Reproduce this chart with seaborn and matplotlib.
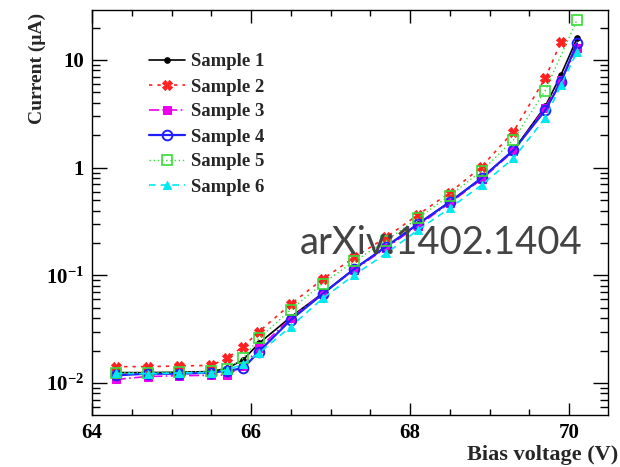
import numpy as np
import pandas as pd
import matplotlib
matplotlib.use("Agg")
import matplotlib.pyplot as plt
import matplotlib.ticker as mticker
import seaborn as sns

# ---- data ----
v_full = [64.3, 64.7, 65.1, 65.5, 65.7, 65.9, 66.1, 66.5, 66.9, 67.3, 67.7,
          68.1, 68.5, 68.9, 69.3, 69.7, 69.9, 70.1]
v_s2 = [64.3, 64.7, 65.1, 65.5, 65.7, 65.9, 66.1, 66.5, 66.9, 67.3, 67.7,
        68.1, 68.5, 68.9, 69.3, 69.7, 69.9]
v_s5 = [64.3, 64.7, 65.1, 65.5, 65.7, 65.9, 66.1, 66.5, 66.9, 67.3, 67.7,
        68.1, 68.5, 68.9, 69.3, 69.7, 70.1]

sample1 = [0.0125, 0.0125, 0.0126, 0.0128, 0.0137, 0.0164, 0.0234, 0.041, 0.068,
           0.115, 0.185, 0.30, 0.48, 0.80, 1.45, 3.7, 7.3, 15.9]
sample2 = [0.0142, 0.0142, 0.0144, 0.0146, 0.0170, 0.0218, 0.030, 0.054, 0.092,
           0.147, 0.226, 0.365, 0.586, 1.02, 2.16, 6.76, 14.8]
sample3 = [0.0108, 0.0115, 0.0117, 0.0118, 0.0119, 0.0145, 0.021, 0.040, 0.068,
           0.113, 0.18, 0.29, 0.47, 0.78, 1.42, 3.6, 6.5, 12.8]
sample4 = [0.0118, 0.0122, 0.0122, 0.0125, 0.0130, 0.0137, 0.0196, 0.0386, 0.067,
           0.115, 0.185, 0.30, 0.48, 0.80, 1.45, 3.4, 6.3, 14.3]
sample5 = [0.0125, 0.0125, 0.0126, 0.0128, 0.0135, 0.017, 0.026, 0.048, 0.084,
           0.135, 0.21, 0.34, 0.55, 0.93, 1.81, 5.2, 23.5]
sample6 = [0.0123, 0.0122, 0.0124, 0.0125, 0.0132, 0.015, 0.019, 0.0334, 0.061,
           0.101, 0.160, 0.264, 0.42, 0.69, 1.22, 2.88, 5.86, 11.9]

labels = ["Sample 1", "Sample 2", "Sample 3", "Sample 4", "Sample 5", "Sample 6"]
xticks = [64, 66, 68, 70]
xtick_labels = ["64", "66", "68", "70"]

# ---- style ----
sns.set_style("ticks")
plt.rcParams["font.family"] = ["Liberation Serif", "DejaVu Serif"]
plt.rcParams["font.weight"] = "bold"
plt.rcParams["mathtext.fontset"] = "custom"
plt.rcParams["mathtext.rm"] = "Liberation Serif:bold"
plt.rcParams["mathtext.bf"] = "Liberation Serif:bold"
plt.rcParams["mathtext.it"] = "Liberation Serif:bold"

fig = plt.figure(figsize=(6.2, 4.67), dpi=100)
ax = fig.add_axes([92 / 620, 52 / 467, 516 / 620, 405 / 467])

series = [
    (v_full, sample1, dict(color="#000000", marker="o", markersize=4, linestyle="-", linewidth=1.2)),
    (v_s2, sample2, dict(color="#ff2020", marker="X", markersize=7, linestyle=(0, (2, 3)), linewidth=1.2)),
    (v_full, sample3, dict(color="#ee00ee", marker="s", markersize=5.5, linestyle=(0, (6, 2, 1, 2)), linewidth=1.2)),
    (v_full, sample4, dict(color="#2020ff", marker="o", markersize=7, markerfacecolor="none",
                           markeredgewidth=1.4, linestyle="-", linewidth=1.6)),
    (v_s5, sample5, dict(color="#33dd33", marker="s", markersize=7, markerfacecolor="none",
                         markeredgewidth=1.2, linestyle=(0, (1, 2)), linewidth=1.0)),
    (v_full, sample6, dict(color="#00e8f0", marker="^", markersize=6, linestyle=(0, (4, 3)), linewidth=1.2)),
]

for (xv, yv, kw), lab in zip(series, labels):
    df = pd.DataFrame({"v": xv, "i": yv})
    sns.lineplot(data=df, x="v", y="i", ax=ax, label=lab, sort=False,
                 estimator=None, markeredgecolor=kw.get("color"), **kw)

ax.set_yscale("log")
ax.set_xlim(64, 70.49)
ax.set_ylim(0.00505, 29.1)

ax.xaxis.set_major_locator(mticker.FixedLocator(xticks))
ax.xaxis.set_major_formatter(mticker.FixedFormatter(xtick_labels))
ax.xaxis.set_minor_locator(mticker.MultipleLocator(0.5))

def yfmt(val, pos):
    e = int(round(np.log10(val)))
    if e == 0:
        return "1"
    if e == 1:
        return "10"
    return r"$\mathbf{10^{%d}}$" % e

ax.yaxis.set_major_locator(mticker.LogLocator(base=10, numticks=10))
ax.yaxis.set_major_formatter(mticker.FuncFormatter(yfmt))
ax.yaxis.set_minor_locator(mticker.LogLocator(base=10, subs=np.arange(2, 10), numticks=20))
ax.yaxis.set_minor_formatter(mticker.NullFormatter())

ax.tick_params(axis="both", which="both", direction="in", top=True, right=True,
               colors="black", width=1.0)
ax.tick_params(axis="y", which="major", length=11)
ax.tick_params(axis="y", which="minor", length=5.5)
ax.tick_params(axis="x", which="major", length=9)
ax.tick_params(axis="x", which="minor", length=4.5)
ax.tick_params(axis="both", which="major", labelsize=15, pad=6)

for sp in ax.spines.values():
    sp.set_linewidth(1.0)
    sp.set_color("black")

ax.set_xlabel("Bias voltage (V)", fontsize=16, fontweight="bold", loc="right")
ax.xaxis.set_label_coords((618 - 92) / 516, -0.075)
ax.set_ylabel("Current (\u03bcA)", fontsize=14, fontweight="bold", loc="top")
ax.yaxis.set_label_coords((46 - 92) / 516, (415 - 13) / 405)

leg = ax.legend(loc="upper left", bbox_to_anchor=(140 / 620, 1 - 44 / 467),
                bbox_transform=fig.transFigure, frameon=False,
                handlelength=1.9, handletextpad=0.3, labelspacing=0.42, borderpad=0,
                prop={"family": "Liberation Serif", "weight": "bold", "size": 13.5})

fig.text(300 / 620, 1 - 243 / 467, "arXiv:1402.1404", fontsize=27.5, color="#444444",
         family="Lato", fontweight="normal", ha="left", va="center", zorder=10)

fig.savefig("out.png", dpi=100)
